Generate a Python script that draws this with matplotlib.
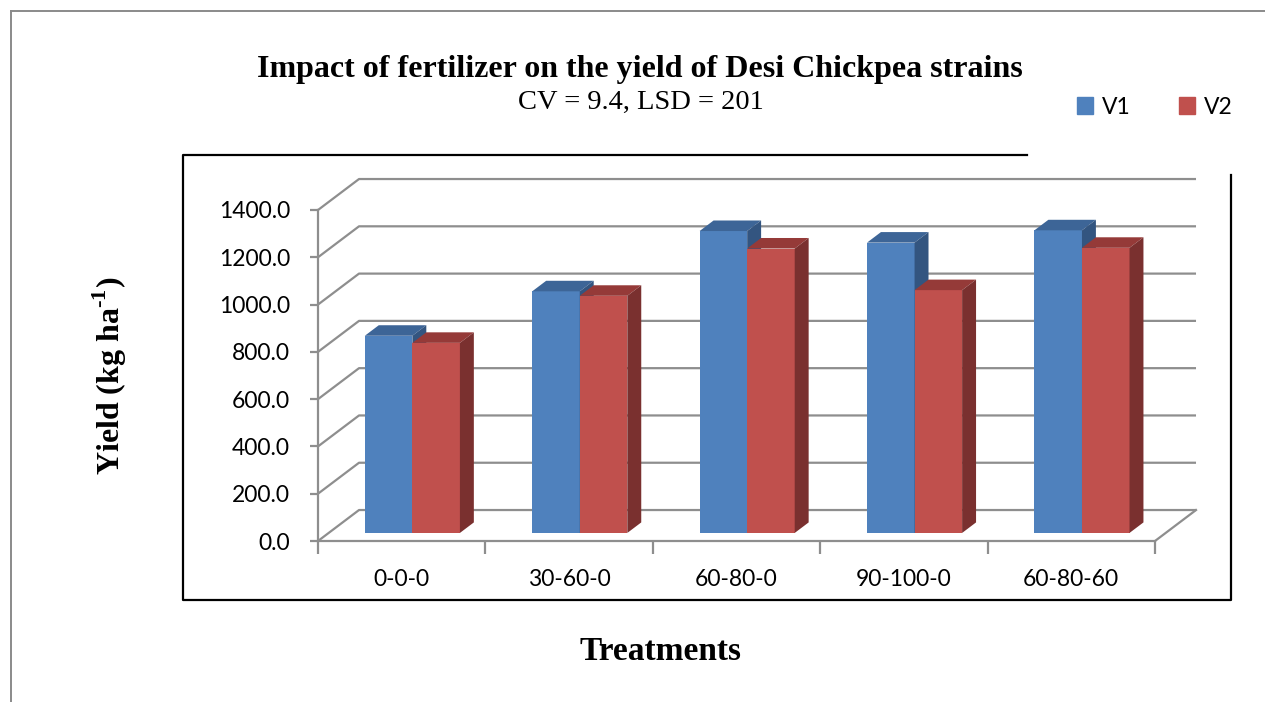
import matplotlib.pyplot as plt
from matplotlib.patches import Polygon, Patch
from matplotlib.lines import Line2D

# data
treatments = ['0-0-0', '30-60-0', '60-80-0', '90-100-0', '60-80-60']
v1 = [834, 1022, 1277, 1228, 1280]
v2 = [804, 1003, 1203, 1027, 1206]
y_ticks = [0, 200, 400, 600, 800, 1000, 1200, 1400]

W, H = 1265, 702
plt.rcParams['mathtext.fontset'] = 'custom'
plt.rcParams['mathtext.rm'] = 'Liberation Serif'
plt.rcParams['mathtext.bf'] = 'Liberation Serif:bold'

fig = plt.figure(figsize=(W / 100, H / 100), dpi=100)
# front plane of the 3-D box
ax = fig.add_axes([318 / W, 161 / H, 837 / W, 331 / H])
ax.set_xlim(0, len(treatments))
ax.set_ylim(0, 1400)

grid = '#8e8e8e'
# oblique depth of the walls (in data units)
wdx, wdy = 0.245, 131
# bar depth placement
f0, fd = 0.26, 0.34
bw = 0.284

# back wall + side wall gridlines
n = len(treatments)
for v in y_ticks:
    ax.plot([0, wdx, n + wdx], [v, v + wdy, v + wdy], color=grid, lw=1.6,
            clip_on=False, zorder=1, solid_capstyle='butt')
ax.plot([n, n + wdx], [0, wdy], color=grid, lw=1.6, clip_on=False, zorder=1)

series = [(v1, '#4f81bd', '#3d6597', '#335580'),
          (v2, '#c0504d', '#953a38', '#7a302f')]

base = f0 * wdy
bdx, bdy = fd * wdx, fd * wdy
for k, (vals, front, top, side) in enumerate(series):
    lefts = [i + (1 - 2 * bw) / 2 + f0 * wdx + k * bw for i in range(n)]
    ax.bar(lefts, vals, width=bw, bottom=base, align='edge', color=front,
           clip_on=False, zorder=3 + k, linewidth=0)
    for x, v in zip(lefts, vals):
        yt = base + v
        ax.add_patch(Polygon([(x, yt), (x + bw, yt), (x + bw + bdx, yt + bdy),
                              (x + bdx, yt + bdy)], closed=True, color=top,
                             lw=0, clip_on=False, zorder=3 + k))
        ax.add_patch(Polygon([(x + bw, base), (x + bw + bdx, base + bdy),
                              (x + bw + bdx, yt + bdy), (x + bw, yt)],
                             closed=True, color=side, lw=0, clip_on=False,
                             zorder=3 + k))

for s in ['top', 'right']:
    ax.spines[s].set_visible(False)
for s in ['left', 'bottom']:
    ax.spines[s].set_color(grid)
    ax.spines[s].set_linewidth(1.6)
ax.patch.set_alpha(0)

ax.set_yticks(y_ticks)
ax.set_yticklabels(['{:.1f}'.format(t) for t in y_ticks])
ax.tick_params(axis='y', direction='out', length=6, width=1.6, color=grid,
               pad=14, labelsize=16.5)
ax.set_xticks(range(n + 1))
ax.set_xticklabels([])
ax.tick_params(axis='x', which='major', direction='out', length=9, width=1.6,
               color=grid)
ax.set_xticks([i + 0.5 for i in range(n)], minor=True)
ax.set_xticklabels(treatments, minor=True)
ax.tick_params(axis='x', which='minor', length=0, pad=20, labelsize=16.5)
for lab in ax.get_xticklabels(minor=True) + ax.get_yticklabels():
    lab.set_family('Lato')

# titles and axis labels
fig.text(640 / W, 1 - 77 / H, 'Impact of fertilizer on the yield of Desi Chickpea strains',
         ha='center', va='baseline', family='Liberation Serif', weight='bold', fontsize=23)
fig.text(641 / W, 1 - 109 / H, 'CV = 9.4, LSD = 201', ha='center', va='baseline',
         family='Liberation Serif', fontsize=20.5)
fig.text(110 / W, 1 - 376 / H, 'Yield (kg ha$^{\\mathbf{\\text{-}1}}$)', rotation=90,
         ha='center', va='center', family='Liberation Serif', weight='bold', fontsize=23)
fig.text(661 / W, 1 - 651 / H, 'Treatments', ha='center', va='center',
         family='Liberation Serif', weight='bold', fontsize=24)

fig.legend(handles=[Patch(color='#4f81bd', label='V1'), Patch(color='#c0504d', label='V2')],
           loc='center', bbox_to_anchor=(1155 / W, 1 - 107 / H), ncol=2, frameon=False,
           handlelength=0.7, handleheight=0.7, columnspacing=2.1, handletextpad=0.4,
           prop={'family': 'Lato', 'size': 16.5})

# chart-area and plot-area borders
def px_line(xs, ys, color, lw):
    fig.add_artist(Line2D([x / W for x in xs], [1 - y / H for y in ys],
                          color=color, lw=lw, transform=fig.transFigure))

px_line([11, 1265], [11, 11], '#8a8a8a', 1.4)
px_line([11, 11], [11, 702], '#8a8a8a', 1.4)
px_line([1027, 183, 183, 1231, 1231], [155, 155, 600, 600, 175], 'black', 1.6)

fig.savefig('out.png', dpi=100)
